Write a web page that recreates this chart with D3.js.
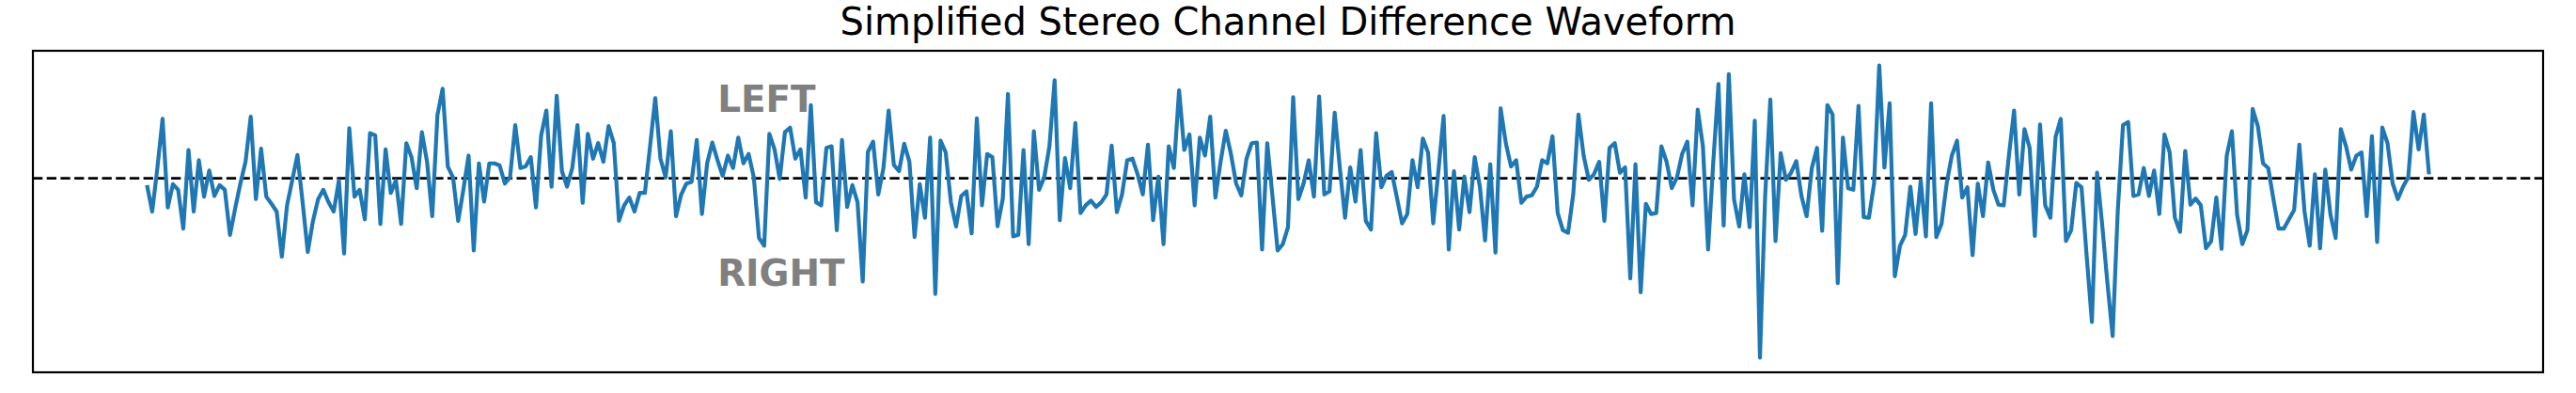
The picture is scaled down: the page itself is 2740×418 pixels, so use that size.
<!DOCTYPE html>
<html>
<head>
<meta charset="utf-8">
<script src="https://cdn.jsdelivr.net/npm/d3@7"></script>
<style>
  html, body { margin: 0; padding: 0; background: #fff; }
  svg { display: block; }
</style>
</head>
<body>
<svg id="chart" width="2740" height="418"></svg>
<script>
const chartTitle = "Simplified Stereo Channel Difference Waveform";
const channelLabels = ["LEFT", "RIGHT"];

// left minus right
const difference = [
  -22, -107, 33, 191, -94, -19, -37, -162, 91, -107,
  58, -59, 25, -57, -22, -37, -182, -97, -17, 53,
  198, -67, 95, -59, -82, -107, -252, -87, -7, 75,
  -77, -237, -137, -67, -37, -77, -107, -7, -242, 161,
  -59, -37, -132, 145, 138, -147, 93, -47, -7, -147,
  113, 68, -32, 148, 53, -122, 203, 288, 38, 3,
  -137, -37, 73, -232, 48, -75, 48, 48, 41, -17,
  3, 171, 33, 38, 68, -94, 138, 218, -27, 265,
  23, -27, 33, 171, -79, 143, 63, 113, 53, 168,
  113, -137, -87, -62, -107, -47, -47, 103, 258, 63,
  3, 151, -122, -52, -17, -12, 123, -115, 48, 115,
  58, 8, 73, 33, 131, 48, 78, 3, -192, -217,
  143, 93, -2, 148, 163, 63, 93, -62, 235, -77,
  -87, 98, 103, -167, 123, -92, -22, -77, -332, 85,
  118, -52, 33, 218, 43, 23, 111, 53, -189, -19,
  -127, 131, -372, 121, 83, -77, -155, -57, -42, -177,
  193, -87, 78, 68, -154, -67, 271, -187, -182, 91,
  -212, 151, -37, 3, 103, 315, -135, 65, -32, 178,
  -112, -87, -72, -92, -77, -52, 105, -109, -52, 58,
  63, 13, -52, 108, -135, 5, -212, 103, 33, 283,
  91, 141, -87, 131, 73, 198, -62, 53, 153, 78,
  -17, -55, 63, 113, 115, -229, 113, -57, -232, -212,
  -157, 261, -67, -17, 58, -59, 263, -52, -42, 211,
  33, -127, 35, -75, 91, -137, -165, 145, -29, 8,
  20, -62, -145, -115, 58, -29, 128, 83, -145, 23,
  200, -229, 23, -165, 5, -109, 68, -27, -200, 45,
  -239, 225, 113, 38, 58, -79, -59, -55, -27, 58,
  48, 135, -112, -167, -175, -52, 205, 73, -5, 13,
  53, -137, 98, 113, 18, 35, -322, 45, -367, -82,
  -115, -112, 103, 53, -32, 3, 78, 118, -87, 221,
  103, -229, 53, 303, -152, 335, -67, -155, 13, -157,
  185, -577, -57, 253, -202, 81, -5, 18, 55, -57,
  -122, 33, 98, -169, 235, 205, -337, 131, -32, -37,
  233, -125, -127, -17, 363, 35, 241, -315, -217, -182,
  -27, -179, -7, -187, 241, -189, -147, -17, 73, 121,
  -62, -29, -247, -17, -122, 51, -37, -85, -87, 73,
  218, -52, 158, 98, -185, 173, -87, -127, 133, 191,
  -202, -167, -15, -29, -252, -462, 18, -152, -337, -507,
  -102, 171, 181, -57, -52, 33, -57, 25, -115, 141,
  83, -127, -172, 88, -85, -65, -87, -225, -202, -62,
  -227, 73, 151, -117, -212, -167, 223, 168, 48, 33,
  -67, -162, -162, -132, -102, 108, -107, -217, 13, -225,
  28, -117, -192, 158, 103, 28, 73, 83, -122, 135,
  -205, 163, 113, -17, -67, -27, 3, 213, 93, 205,
  13
];

const width = 2740;
const height = 418;
const margin = { top: 54, right: 35, bottom: 22, left: 35 };

const svg = d3.select("#chart");

// matplotlib style auto limits: 5% padding on both axes
const n = difference.length;
const xPad = (n - 1) * 0.05;
const xScale = d3
  .scaleLinear()
  .domain([-xPad, n - 1 + xPad])
  .range([margin.left, width - margin.right]);

const yExtent = d3.extent(difference);
const yPad = (yExtent[1] - yExtent[0]) * 0.05;
const yScale = d3
  .scaleLinear()
  .domain([yExtent[0] - yPad, yExtent[1] + yPad])
  .range([height - margin.bottom, margin.top]);

// zero reference line
svg
  .append("line")
  .attr("x1", margin.left)
  .attr("x2", width - margin.right)
  .attr("y1", yScale(0))
  .attr("y2", yScale(0))
  .attr("stroke", "#000")
  .attr("stroke-width", 2.8)
  .attr("stroke-dasharray", "10.3,4.4");

// waveform
const valueline = d3
  .line()
  .x((d, i) => xScale(i))
  .y(d => yScale(d));

svg
  .append("path")
  .attr("d", valueline(difference))
  .attr("fill", "none")
  .attr("stroke", "#1f77b4")
  .attr("stroke-width", 4.2)
  .attr("stroke-linejoin", "round");

// channel labels
svg
  .selectAll("text.channel")
  .data(channelLabels)
  .enter()
  .append("text")
  .attr("class", "channel")
  .attr("x", xScale(110))
  .attr("y", (d, i) => yScale(i === 0 ? 214 : -347))
  .attr("font-family", "DejaVu Sans")
  .attr("font-weight", "bold")
  .attr("font-size", 38.9)
  .attr("fill", "#808080")
  .text(d => d);

// frame
svg
  .append("rect")
  .attr("x", margin.left)
  .attr("y", margin.top)
  .attr("width", width - margin.left - margin.right)
  .attr("height", height - margin.top - margin.bottom)
  .attr("fill", "none")
  .attr("stroke", "#000")
  .attr("stroke-width", 2.2);

// title
svg
  .append("text")
  .attr("x", (margin.left + width - margin.right) / 2)
  .attr("y", margin.top - 17)
  .attr("text-anchor", "middle")
  .attr("font-family", "DejaVu Sans")
  .attr("font-size", 40)
  .attr("fill", "#000")
  .text(chartTitle);
</script>
</body>
</html>
